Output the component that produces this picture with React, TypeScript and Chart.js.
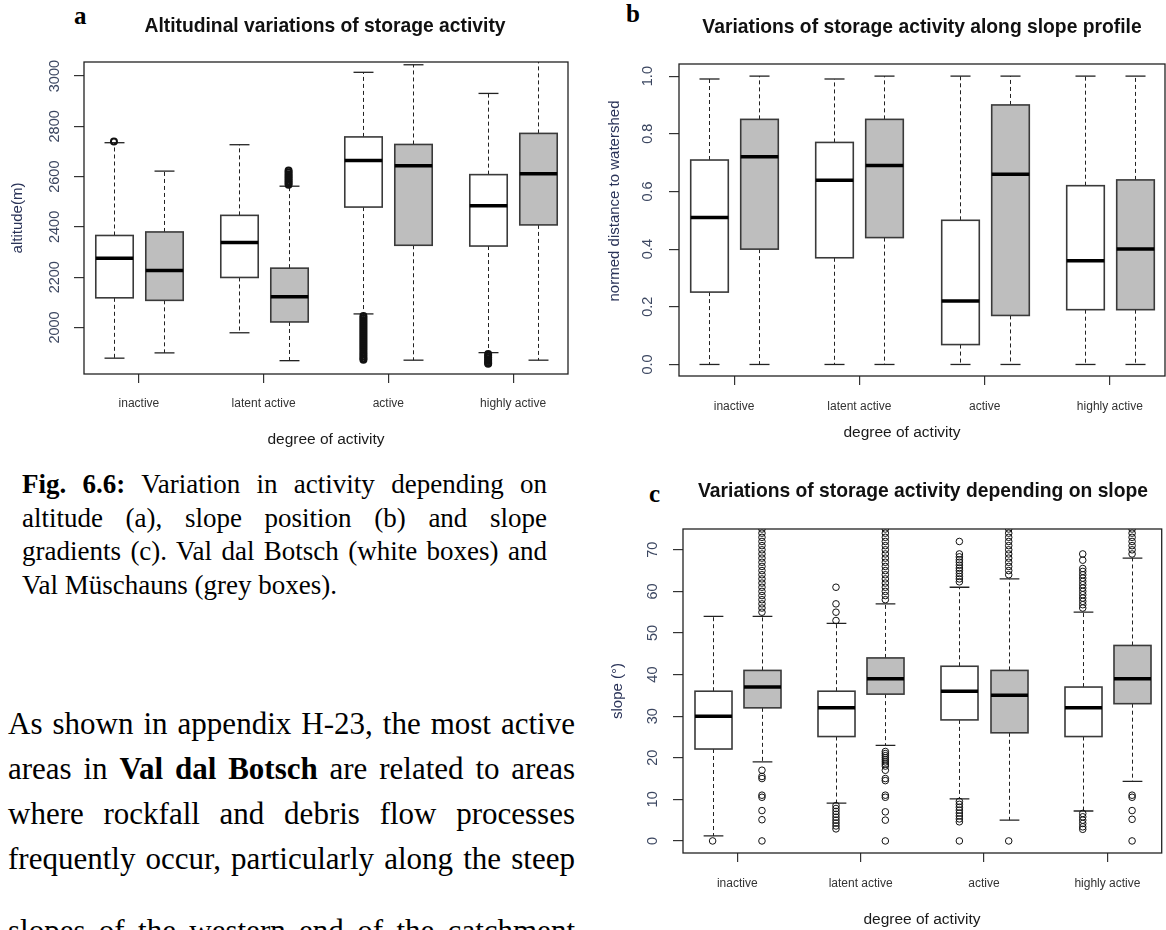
import React, { useEffect, useRef } from 'react';
import { Chart, registerables } from 'chart.js';

Chart.register(...registerables);

const PAGE_W = 1166;
const PAGE_H = 930;

// ---------- shared categories / slots ----------
const categories = ['inactive', 'latent active', 'active', 'highly active'];
const categoryTicks = [0.5, 3, 5.5, 8];
const whiteSlots = [0, 2.5, 5, 7.5];
const greySlots = [1, 3.5, 6, 8.5];

// ---------- panel a: altitude ----------
const altTicks = [2000, 2200, 2400, 2600, 2800, 3000];
const altWhiteLow = [1878, 1979, 2054, 1900];
const altWhiteQ1 = [2118, 2199, 2479, 2324];
const altWhiteMed = [2275, 2338, 2664, 2484];
const altWhiteQ3 = [2366, 2446, 2758, 2608];
const altWhiteHigh = [2735, 2727, 3015, 2931];
const altWhiteOut = [
  [2740],
  [],
  [2046, 2038, 2030, 2022, 2014, 2006, 1998, 1990, 1982, 1974, 1966, 1958, 1950, 1942, 1934, 1926, 1918, 1910, 1902, 1894, 1886, 1878, 1872],
  [1895, 1888, 1881, 1874, 1867, 1860, 1856],
];
const altGreyLow = [1899, 1868, 1870, 1870];
const altGreyQ1 = [2108, 2022, 2327, 2408];
const altGreyMed = [2227, 2122, 2643, 2612];
const altGreyQ3 = [2380, 2236, 2728, 2772];
const altGreyHigh = [2622, 2562, 3045, 3100];
const altGreyOut = [
  [],
  [2568, 2575, 2582, 2589, 2596, 2603, 2610, 2617, 2624],
  [],
  [],
];

// ---------- panel b: slope profile ----------
const posTicks = [0, 0.2, 0.4, 0.6, 0.8, 1.0];
const posWhiteLow = [0, 0, 0, 0];
const posWhiteQ1 = [0.251, 0.37, 0.069, 0.19];
const posWhiteMed = [0.51, 0.639, 0.22, 0.36];
const posWhiteQ3 = [0.709, 0.77, 0.5, 0.62];
const posWhiteHigh = [0.99, 0.99, 1.0, 1.0];
const posGreyLow = [0, 0, 0, 0];
const posGreyQ1 = [0.4, 0.44, 0.17, 0.19];
const posGreyMed = [0.72, 0.69, 0.66, 0.4];
const posGreyQ3 = [0.85, 0.85, 0.9, 0.64];
const posGreyHigh = [1.0, 1.0, 1.0, 1.0];

// ---------- panel c: slope gradient ----------
const slopeTicks = [0, 10, 20, 30, 40, 50, 60, 70];
const slopeWhiteLow = [1.2, 9.1, 10.1, 7.2];
const slopeWhiteQ1 = [22.1, 25.1, 29.1, 25.1];
const slopeWhiteMed = [30, 32, 36, 32];
const slopeWhiteQ3 = [36, 36, 42, 37];
const slopeWhiteHigh = [54, 52.3, 61, 55];
const slopeWhiteOut = [
  [0],
  [61, 57, 55, 53, 8.5, 7.8, 7.1, 6.4, 5.7, 5, 4.3, 3.6, 2.9],
  [72, 69, 68.3, 67.6, 67, 66.3, 65.6, 65, 64.3, 63.6, 63, 62.3, 9.5, 8.8, 8.1, 7.4, 6.7, 6, 5.3, 4.6, 0],
  [69, 67.5, 65.5, 64.8, 64, 63.2, 62.4, 61.6, 60.8, 60, 59.2, 58.4, 57.6, 56.8, 56, 6.6, 5.8, 5, 4.2, 3.4, 2.8],
];
const slopeGreyLow = [19, 23, 5, 14.3];
const slopeGreyQ1 = [32, 35.3, 26, 33];
const slopeGreyMed = [37, 39, 35, 39];
const slopeGreyQ3 = [41, 44, 41, 47];
const slopeGreyHigh = [54, 57, 63, 68];
const slopeGreyOut = [
  [55, 56, 57, 58, 59, 60, 61, 62, 63, 64, 65, 66, 67, 68, 69, 70, 71, 72, 73, 74, 75, 17, 15.5, 15, 11, 10.5, 7.3, 5.1, 0],
  [58, 59, 60, 61, 62, 63, 64, 65, 66, 67, 68, 69, 70, 71, 72, 73, 74, 75, 21.5, 21, 20.5, 20, 19.5, 19, 18.5, 18, 17, 15, 14.5, 11, 10.5, 7, 5, 0],
  [64, 65, 66, 67, 68, 69, 70, 71, 72, 73, 74, 75, 0],
  [69, 70, 71, 72, 73, 74, 75, 11, 10.5, 7.3, 5.2, 0],
];

// ---------- types ----------
type BoxGroup = {
  slots: number[];
  low: number[];
  q1: number[];
  med: number[];
  q3: number[];
  high: number[];
  out: number[][];
  fill: string;
};

type TextPos = { text: string; x: number; y: number };

type PanelSpec = {
  id: string;
  frame: { left: number; top: number; right: number; bottom: number };
  yMin: number;
  yMax: number;
  yTicks: number[];
  yTickFmt: (v: number) => string;
  yTickX: number;
  xLabelPad: number;
  title: TextPos;
  xTitle: TextPos;
  yTitle: TextPos;
  groups: BoxGroup[];
  pointRadius: number;
  pointBorder: number;
};

const WHITE = '#ffffff';
const GREY = '#bebebe';
const SANS = '"Liberation Sans", Arial, Helvetica, sans-serif';
const SERIF = '"Liberation Serif", "Times New Roman", Times, serif';
const Y_AXIS_W = 40;
const X_AXIS_H = 60;
const BOX_HALF = 0.375;
const CAP_HALF = 0.2;

const panelA: PanelSpec = {
  id: 'a',
  frame: { left: 84, top: 62, right: 568, bottom: 374 },
  yMin: 1815,
  yMax: 3056,
  yTicks: altTicks,
  yTickFmt: (v) => String(v),
  yTickX: 55,
  xLabelPad: 13,
  title: { text: 'Altitudinal variations of storage activity', x: 325, y: 32 },
  xTitle: { text: 'degree of activity', x: 326, y: 440 },
  yTitle: { text: 'altitude(m)', x: 18, y: 218 },
  groups: [
    { slots: whiteSlots, low: altWhiteLow, q1: altWhiteQ1, med: altWhiteMed, q3: altWhiteQ3, high: altWhiteHigh, out: altWhiteOut, fill: WHITE },
    { slots: greySlots, low: altGreyLow, q1: altGreyQ1, med: altGreyMed, q3: altGreyQ3, high: altGreyHigh, out: altGreyOut, fill: GREY },
  ],
  pointRadius: 3,
  pointBorder: 2,
};

const panelB: PanelSpec = {
  id: 'b',
  frame: { left: 679, top: 64, right: 1165, bottom: 376 },
  yMin: -0.04,
  yMax: 1.042,
  yTicks: posTicks,
  yTickFmt: (v) => v.toFixed(1),
  yTickX: 648,
  xLabelPad: 14,
  title: { text: 'Variations of storage activity along slope profile', x: 922, y: 33 },
  xTitle: { text: 'degree of activity', x: 902, y: 433 },
  yTitle: { text: 'normed distance to watershed', x: 615, y: 201 },
  groups: [
    { slots: whiteSlots, low: posWhiteLow, q1: posWhiteQ1, med: posWhiteMed, q3: posWhiteQ3, high: posWhiteHigh, out: [[], [], [], []], fill: WHITE },
    { slots: greySlots, low: posGreyLow, q1: posGreyQ1, med: posGreyMed, q3: posGreyQ3, high: posGreyHigh, out: [[], [], [], []], fill: GREY },
  ],
  pointRadius: 3,
  pointBorder: 1,
};

const panelC: PanelSpec = {
  id: 'c',
  frame: { left: 683, top: 529, right: 1165, bottom: 853 },
  yMin: -2.9,
  yMax: 75,
  yTicks: slopeTicks,
  yTickFmt: (v) => String(v),
  yTickX: 653,
  xLabelPad: 14,
  title: { text: 'Variations of storage activity depending on slope', x: 923, y: 497 },
  xTitle: { text: 'degree of activity', x: 922, y: 920 },
  yTitle: { text: 'slope (°)', x: 618, y: 691 },
  groups: [
    { slots: whiteSlots, low: slopeWhiteLow, q1: slopeWhiteQ1, med: slopeWhiteMed, q3: slopeWhiteQ3, high: slopeWhiteHigh, out: slopeWhiteOut, fill: WHITE },
    { slots: greySlots, low: slopeGreyLow, q1: slopeGreyQ1, med: slopeGreyMed, q3: slopeGreyQ3, high: slopeGreyHigh, out: slopeGreyOut, fill: GREY },
  ],
  pointRadius: 3.3,
  pointBorder: 1,
};

function boxPlugin(spec: PanelSpec) {
  return {
    id: 'rbox_' + spec.id,
    beforeDatasetsDraw(chart: any) {
      const { ctx, chartArea: a, scales } = chart;
      const xs = scales.x;
      const ys = scales.y;
      ctx.save();
      ctx.beginPath();
      ctx.rect(a.left, a.top, a.right - a.left, a.bottom - a.top);
      ctx.clip();
      const line = (x1: number, y1: number, x2: number, y2: number) => {
        ctx.beginPath();
        ctx.moveTo(x1, y1);
        ctx.lineTo(x2, y2);
        ctx.stroke();
      };
      for (const g of spec.groups) {
        for (let i = 0; i < g.slots.length; i++) {
          const cx = Math.round(xs.getPixelForValue(g.slots[i])) + 0.5;
          const hw = xs.getPixelForValue(g.slots[i] + BOX_HALF) - xs.getPixelForValue(g.slots[i]);
          const cw = xs.getPixelForValue(g.slots[i] + CAP_HALF) - xs.getPixelForValue(g.slots[i]);
          const yLow = ys.getPixelForValue(g.low[i]);
          const yQ1 = ys.getPixelForValue(g.q1[i]);
          const yMed = ys.getPixelForValue(g.med[i]);
          const yQ3 = ys.getPixelForValue(g.q3[i]);
          const yHigh = ys.getPixelForValue(g.high[i]);
          // whiskers
          ctx.strokeStyle = '#222';
          ctx.lineWidth = 1;
          ctx.setLineDash([4, 3]);
          line(cx, yQ3, cx, yHigh);
          line(cx, yQ1, cx, yLow);
          ctx.setLineDash([]);
          // staples
          ctx.lineWidth = 1.3;
          line(cx - cw, yHigh, cx + cw, yHigh);
          line(cx - cw, yLow, cx + cw, yLow);
          // box
          ctx.fillStyle = g.fill;
          ctx.fillRect(cx - hw, yQ3, 2 * hw, yQ1 - yQ3);
          ctx.strokeStyle = '#3a3a3a';
          ctx.lineWidth = 1.6;
          ctx.strokeRect(cx - hw, yQ3, 2 * hw, yQ1 - yQ3);
          // median
          ctx.strokeStyle = '#000';
          ctx.lineWidth = 3.5;
          line(cx - hw, yMed, cx + hw, yMed);
        }
      }
      ctx.restore();
    },
    afterDraw(chart: any) {
      const { ctx, chartArea: a, scales } = chart;
      const ys = scales.y;
      ctx.save();
      ctx.setLineDash([]);
      // frame
      ctx.strokeStyle = '#222';
      ctx.lineWidth = 1.3;
      ctx.strokeRect(a.left, a.top, a.right - a.left, a.bottom - a.top);
      // y tick labels (parallel to axis)
      ctx.fillStyle = '#3b4660';
      ctx.font = '14.5px ' + SANS;
      ctx.textAlign = 'center';
      ctx.textBaseline = 'middle';
      for (const v of spec.yTicks) {
        const py = ys.getPixelForValue(v);
        ctx.save();
        ctx.translate(spec.yTickX, py);
        ctx.rotate(-Math.PI / 2);
        ctx.fillText(spec.yTickFmt(v), 0, 0);
        ctx.restore();
      }
      // main title
      ctx.fillStyle = '#111';
      ctx.font = 'bold 19.3px ' + SANS;
      ctx.textBaseline = 'alphabetic';
      ctx.fillText(spec.title.text, spec.title.x, spec.title.y);
      // x title
      ctx.font = '15.5px ' + SANS;
      ctx.textBaseline = 'middle';
      ctx.fillStyle = '#1a1a1a';
      ctx.fillText(spec.xTitle.text, spec.xTitle.x, spec.xTitle.y);
      // y title
      ctx.fillStyle = '#2a3358';
      ctx.font = '15px ' + SANS;
      ctx.save();
      ctx.translate(spec.yTitle.x, spec.yTitle.y);
      ctx.rotate(-Math.PI / 2);
      ctx.fillText(spec.yTitle.text, 0, 0);
      ctx.restore();
      ctx.restore();
    },
  };
}

function outlierPoints(g: BoxGroup) {
  const pts: { x: number; y: number }[] = [];
  g.out.forEach((vals, i) => vals.forEach((v) => pts.push({ x: g.slots[i], y: v })));
  return pts;
}

function BoxplotPanel({ spec }: { spec: PanelSpec }) {
  const ref = useRef<HTMLCanvasElement | null>(null);
  useEffect(() => {
    if (!ref.current) return;
    const f = spec.frame;
    const chart = new Chart(ref.current, {
      type: 'scatter',
      data: {
        datasets: spec.groups.map((g) => ({
          data: outlierPoints(g),
          pointRadius: spec.pointRadius,
          pointHoverRadius: spec.pointRadius,
          pointBorderWidth: spec.pointBorder,
          pointBackgroundColor: 'rgba(0,0,0,0)',
          pointBorderColor: '#111',
          showLine: false,
          clip: 0,
        })),
      },
      options: {
        responsive: false,
        animation: false,
        events: [],
        layout: {
          padding: {
            left: f.left - Y_AXIS_W,
            top: f.top,
            right: PAGE_W - f.right,
            bottom: PAGE_H - f.bottom - X_AXIS_H,
          },
        },
        plugins: {
          legend: { display: false },
          tooltip: { enabled: false },
          title: { display: false },
        },
        scales: {
          x: {
            type: 'linear',
            min: -0.6,
            max: 9.1,
            bounds: 'data',
            afterBuildTicks: (s: any) => {
              s.ticks = categoryTicks.map((v) => ({ value: v }));
            },
            afterFit: (s: any) => {
              s.height = X_AXIS_H;
            },
            ticks: {
              autoSkip: false,
              maxRotation: 0,
              minRotation: 0,
              padding: spec.xLabelPad,
              color: '#333',
              font: { family: SANS, size: 12 },
              callback: (_v: any, i: number) => categories[i],
            },
            grid: { drawOnChartArea: false, drawTicks: true, tickLength: 9, color: '#333', lineWidth: 1.2 },
            border: { display: false },
          },
          y: {
            type: 'linear',
            min: spec.yMin,
            max: spec.yMax,
            bounds: 'data',
            afterBuildTicks: (s: any) => {
              s.ticks = spec.yTicks.map((v) => ({ value: v }));
            },
            afterFit: (s: any) => {
              s.width = Y_AXIS_W;
            },
            ticks: { display: false },
            grid: { drawOnChartArea: false, drawTicks: true, tickLength: 10, color: '#333', lineWidth: 1.2 },
            border: { display: false },
          },
        },
      } as any,
      plugins: [boxPlugin(spec)],
    });
    return () => chart.destroy();
  }, [spec]);
  return (
    <canvas
      ref={ref}
      width={PAGE_W}
      height={PAGE_H}
      style={{ position: 'absolute', left: 0, top: 0, width: PAGE_W, height: PAGE_H, pointerEvents: 'none' }}
    />
  );
}

const lineStyle = (left: number, top: number, width: number, size: number, lh: number, justify: boolean): React.CSSProperties => ({
  position: 'absolute',
  left,
  top,
  width,
  fontFamily: SERIF,
  fontSize: size,
  lineHeight: lh + 'px',
  whiteSpace: 'nowrap',
  textAlign: justify ? 'justify' : 'left',
  textAlignLast: justify ? 'justify' : 'left',
  color: '#000',
});

export default function App() {
  const capL = 22;
  const capW = 525;
  const capS = 27;
  const capLH = 33.7;
  const capTop = 468;
  const parL = 8;
  const parW = 567;
  const parS = 31;
  const parLH = 45;
  const parTop = 701;
  return (
    <div style={{ position: 'absolute', left: 0, top: 0, width: PAGE_W, height: PAGE_H, overflow: 'hidden', background: '#fff' }}>
      <div style={{ position: 'absolute', left: 74, top: 2, fontFamily: SERIF, fontWeight: 'bold', fontSize: 25 }}>a</div>
      <div style={{ position: 'absolute', left: 626, top: 0, fontFamily: SERIF, fontWeight: 'bold', fontSize: 25 }}>b</div>
      <div style={{ position: 'absolute', left: 649, top: 480, fontFamily: SERIF, fontWeight: 'bold', fontSize: 25 }}>c</div>

      <div style={lineStyle(capL, capTop, capW, capS, capLH, true)}>
        <b>Fig. 6.6:</b> Variation in activity depending on
      </div>
      <div style={lineStyle(capL, capTop + capLH, capW, capS, capLH, true)}>
        altitude (a), slope position (b) and slope
      </div>
      <div style={lineStyle(capL, capTop + 2 * capLH, capW, capS, capLH, true)}>
        gradients (c). Val dal Botsch (white boxes) and
      </div>
      <div style={lineStyle(capL, capTop + 3 * capLH, capW, capS, capLH, false)}>
        Val Müschauns (grey boxes).
      </div>

      <div style={lineStyle(parL, parTop, parW, parS, parLH, true)}>
        As shown in appendix H-23, the most active
      </div>
      <div style={lineStyle(parL, parTop + parLH, parW, parS, parLH, true)}>
        areas in <b>Val dal Botsch</b> are related to areas
      </div>
      <div style={lineStyle(parL, parTop + 2 * parLH, parW, parS, parLH, true)}>
        where rockfall and debris flow processes
      </div>
      <div style={lineStyle(parL, parTop + 3 * parLH, parW, parS, parLH, true)}>
        frequently occur, particularly along the steep
      </div>
      <div style={lineStyle(parL, parTop + 4 * parLH + 27, parW, parS, parLH, true)}>
        slopes of the western end of the catchment
      </div>

      <BoxplotPanel spec={panelA} />
      <BoxplotPanel spec={panelB} />
      <BoxplotPanel spec={panelC} />
    </div>
  );
}
